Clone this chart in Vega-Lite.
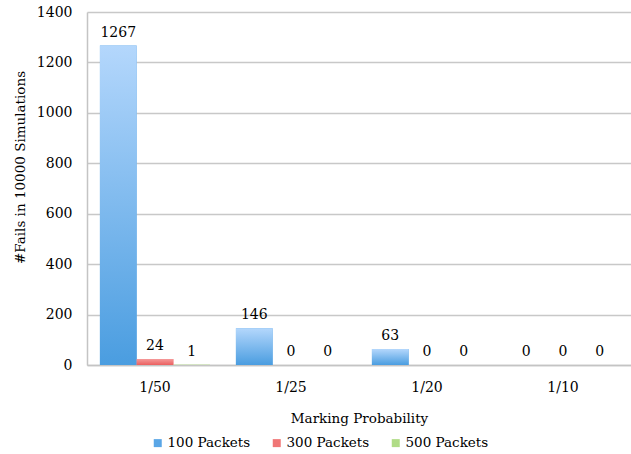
{
  "$schema": "https://vega.github.io/schema/vega-lite/v6.json",
  "width": 544,
  "height": 353,
  "autosize": {"type": "none"},
  "padding": {"left": 87, "top": 12, "right": 0, "bottom": 89},
  "background": "white",
  "config": {
    "font": "DejaVu Serif",
    "view": {"stroke": null},
    "axis": {"labelFont": "DejaVu Serif", "titleFont": "DejaVu Serif", "labelFontSize": 14, "titleFontSize": 13.5, "titleFontWeight": "normal", "labelColor": "#000", "titleColor": "#000"},
    "legend": {"labelFont": "DejaVu Serif", "labelFontSize": 13.5, "labelColor": "#000"}
  },
  "data": {"values": [
    {"p": "1/50", "s": "100 Packets", "v": 1267},
    {"p": "1/50", "s": "300 Packets", "v": 24},
    {"p": "1/50", "s": "500 Packets", "v": 1},
    {"p": "1/25", "s": "100 Packets", "v": 146},
    {"p": "1/25", "s": "300 Packets", "v": 0},
    {"p": "1/25", "s": "500 Packets", "v": 0},
    {"p": "1/20", "s": "100 Packets", "v": 63},
    {"p": "1/20", "s": "300 Packets", "v": 0},
    {"p": "1/20", "s": "500 Packets", "v": 0},
    {"p": "1/10", "s": "100 Packets", "v": 0},
    {"p": "1/10", "s": "300 Packets", "v": 0},
    {"p": "1/10", "s": "500 Packets", "v": 0}
  ]},
  "encoding": {
    "x": {"field": "p", "type": "nominal", "sort": ["1/50", "1/25", "1/20", "1/10"],
      "scale": {"paddingInner": 0.19, "paddingOuter": 0.095},
      "axis": {"title": "Marking Probability", "labelAngle": 0, "ticks": false, "labelPadding": 15, "titlePadding": 17, "domainColor": "#c4c4c4", "domainWidth": 1.5}},
    "xOffset": {"field": "s", "type": "nominal", "scale": {"domain": ["100 Packets", "300 Packets", "500 Packets"], "paddingInner": 0, "paddingOuter": 0}},
    "y": {"field": "v", "type": "quantitative", "scale": {"domain": [0, 1400]},
      "axis": {"title": "#Fails in 10000 Simulations", "format": "d", "values": [0, 200, 400, 600, 800, 1000, 1200, 1400], "ticks": false, "labelPadding": 15, "titlePadding": 9, "titleY": 155, "gridColor": "#c8c8c8", "gridWidth": 1.5, "domainColor": "#c4c4c4", "domainWidth": 1.5}}
  },
  "layer": [
    {
      "mark": {"type": "bar"},
      "encoding": {
        "color": {"field": "s", "type": "nominal", "scale": {"domain": ["100 Packets", "300 Packets", "500 Packets"], "range": ["#5aa6e6", "#f07676", "#b0dc86"]},
          "legend": {"title": null, "orient": "none", "legendX": 64, "legendY": 424, "direction": "horizontal", "symbolType": "square", "symbolSize": 64, "symbolStrokeWidth": 0, "columnPadding": 19, "labelOffset": 3}}
      }
    },
    {
      "transform": [{"filter": "datum.s === '100 Packets'"}],
      "mark": {"type": "bar", "color": {"gradient": "linear", "x1": 0, "y1": 0, "x2": 0, "y2": 1, "stops": [{"offset": 0, "color": "#b4d7fc"}, {"offset": 1, "color": "#4a9de0"}]}}
    },
    {
      "transform": [{"filter": "datum.s === '300 Packets'"}],
      "mark": {"type": "bar", "color": {"gradient": "linear", "x1": 0, "y1": 0, "x2": 0, "y2": 1, "stops": [{"offset": 0, "color": "#f59a9a"}, {"offset": 1, "color": "#ea6060"}]}}
    },
    {
      "transform": [{"filter": "datum.s === '500 Packets'"}],
      "mark": {"type": "bar", "color": {"gradient": "linear", "x1": 0, "y1": 0, "x2": 0, "y2": 1, "stops": [{"offset": 0, "color": "#cdeaa8"}, {"offset": 1, "color": "#9ed06c"}]}}
    },
    {
      "mark": {"type": "text", "baseline": "alphabetic", "dy": -9, "fontSize": 14, "font": "DejaVu Serif", "color": "#000"},
      "encoding": {"text": {"field": "v", "type": "quantitative"}}
    }
  ]
}
